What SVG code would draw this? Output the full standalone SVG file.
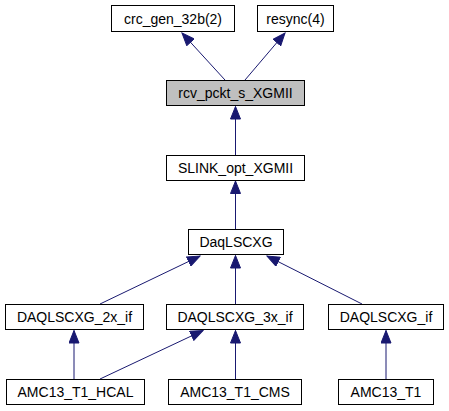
<svg xmlns="http://www.w3.org/2000/svg" width="449" height="411" viewBox="0 0 449 411">
<style>
.box{fill:#ffffff;stroke:#000000;stroke-width:1}
.cur{fill:#bfbfbf;stroke:#000000;stroke-width:1}
text{font-family:"Liberation Sans",Arial,sans-serif;font-size:14px;fill:#000000;text-anchor:middle}
.edge{stroke:#191970;stroke-width:1;fill:none;marker-end:url(#arr)}
</style>
<defs>
<marker id="arr" markerUnits="userSpaceOnUse" markerWidth="14" markerHeight="11" refX="13" refY="5.5" orient="auto">
<path d="M0.5,0.5 L13,5.5 L0.5,10.5 z" fill="#191970" stroke="#191970" stroke-width="1"/>
</marker>
</defs>
<rect width="449" height="411" fill="#ffffff"/>
<g id="connectors">
<line class="edge" x1="225" y1="80" x2="182" y2="33"/>
<line class="edge" x1="245" y1="80" x2="285" y2="33"/>
<line class="edge" x1="235.5" y1="155" x2="235.5" y2="106.5"/>
<line class="edge" x1="235.5" y1="229" x2="235.5" y2="181"/>
<line class="edge" x1="100" y1="304" x2="200" y2="256"/>
<line class="edge" x1="235.5" y1="304" x2="235.5" y2="255.5"/>
<line class="edge" x1="362" y1="304" x2="267" y2="256"/>
<line class="edge" x1="74" y1="379" x2="74" y2="330.5"/>
<line class="edge" x1="100" y1="379" x2="203" y2="330.5"/>
<line class="edge" x1="235.5" y1="379" x2="235.5" y2="330.5"/>
<line class="edge" x1="386" y1="379" x2="386" y2="330.5"/>
</g>
<g id="crc_gen_32b"><rect class="box" x="111.5" y="5.5" width="123" height="26"/><text x="173" y="23.5">crc_gen_32b(2)</text></g>
<g id="resync"><rect class="box" x="257.5" y="5.5" width="76" height="26"/><text x="295.5" y="23.5">resync(4)</text></g>
<g id="rcv_pckt_s_XGMII"><rect class="cur" x="166.5" y="80.5" width="138" height="25"/><text x="235.5" y="98">rcv_pckt_s_XGMII</text></g>
<g id="SLINK_opt_XGMII"><rect class="box" x="166.5" y="155.5" width="138" height="25"/><text x="235.5" y="173">SLINK_opt_XGMII</text></g>
<g id="DaqLSCXG"><rect class="box" x="188.5" y="229.5" width="95" height="25"/><text x="236" y="247">DaqLSCXG</text></g>
<g id="DAQLSCXG_2x_if"><rect class="box" x="5.5" y="304.5" width="138" height="25"/><text x="74.5" y="322">DAQLSCXG_2x_if</text></g>
<g id="DAQLSCXG_3x_if"><rect class="box" x="166.5" y="304.5" width="137" height="25"/><text x="235" y="322">DAQLSCXG_3x_if</text></g>
<g id="DAQLSCXG_if"><rect class="box" x="328.5" y="304.5" width="115" height="25"/><text x="386" y="322">DAQLSCXG_if</text></g>
<g id="AMC13_T1_HCAL"><rect class="box" x="6.5" y="379.5" width="138" height="25"/><text x="75.5" y="397">AMC13_T1_HCAL</text></g>
<g id="AMC13_T1_CMS"><rect class="box" x="168.5" y="379.5" width="133" height="25"/><text x="235" y="397">AMC13_T1_CMS</text></g>
<g id="AMC13_T1"><rect class="box" x="338.5" y="379.5" width="95" height="25"/><text x="386" y="397">AMC13_T1</text></g>
</svg>
